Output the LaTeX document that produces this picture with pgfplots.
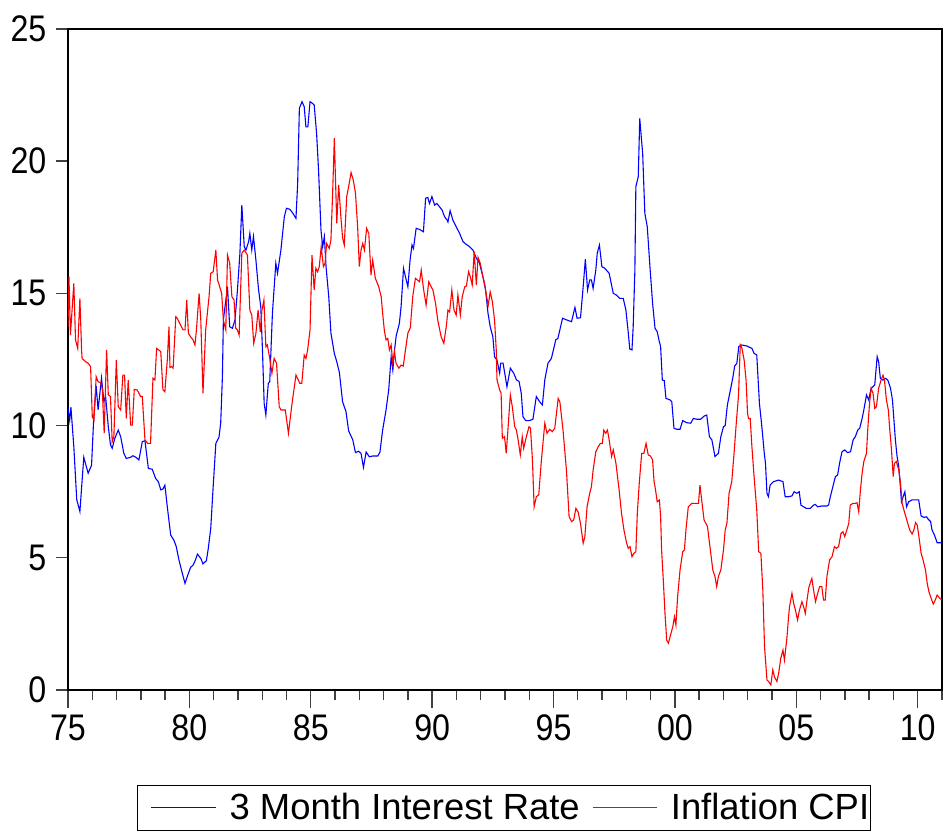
\documentclass[border=0pt]{standalone}
\usepackage{fontspec}
\setmainfont{Liberation Sans}
\newfontfamily\tickfont[FakeStretch=0.87]{Liberation Sans}
\usepackage{pgfplots}
\pgfplotsset{compat=1.18}
\definecolor{ebl}{RGB}{0,0,255}
\definecolor{erd}{RGB}{255,0,0}
\begin{document}
\begin{tikzpicture}
\begin{axis}[
  scale only axis, width=437pt, height=330.5pt,
  xmin=1975, xmax=2011, ymin=0, ymax=25,
  axis line style={line width=0.8pt, black},
  xtick={1975,1980,...,2010},
  xticklabels={75,80,85,90,95,00,05,10},
  minor xtick={1976,...,2011},
  ytick={0,5,...,25},
  xtick pos=bottom, ytick pos=left,
  tick align=outside,
  major tick length=8.8pt, minor tick length=5pt,
  ytick style={/pgfplots/major tick length=5.8pt},
  tick style={line width=0.7pt, black!75},
  /pgf/number format/assume math mode=true,
  ticklabel style={font=\tickfont\fontsize{18.5}{20}\selectfont},
  yticklabel style={xshift=1.5pt},
  legend columns=2,
  legend style={at={(0.0789,-0.1437)}, anchor=north west, draw=black, line width=0.5pt,
    font=\fontsize{18.2}{21}\selectfont, inner xsep=0.5pt, inner ysep=3.8pt,
    nodes={inner sep=0pt},
    /tikz/every odd column/.append style={column sep=6.5pt},
    /tikz/every even column/.append style={column sep=0pt}},
  legend image code/.code={\path (-6.2pt,0pt); \draw[#1, line width=0.65pt] (0pt,0.25pt) -- (32.3pt,0.25pt);},
]
\addplot[color=ebl, line width=0.55pt] coordinates {
(1975.00,10.65)(1975.07,10.2)(1975.12,10.7)(1975.24,9.2)(1975.36,7.2)(1975.49,6.75)(1975.65,8.8)(1975.83,8.2)(1975.97,8.5)
(1976.06,10.3)(1976.16,11.5)(1976.24,10.6)(1976.38,11.8)(1976.48,10.9)(1976.55,11.1)(1976.66,9.96)(1976.75,9.27)(1976.82,9.14)(1976.93,9.52)
(1977.07,9.83)(1977.17,9.58)(1977.30,8.95)(1977.40,8.76)(1977.58,8.8)(1977.67,8.86)(1977.80,8.8)(1977.92,8.7)
(1978.06,9.39)(1978.17,9.43)(1978.31,8.38)(1978.47,8.35)(1978.61,8.0)(1978.72,7.88)(1978.82,7.57)(1978.91,7.6)(1978.99,7.75)
(1979.09,6.93)(1979.23,5.86)(1979.37,5.65)(1979.46,5.42)(1979.57,4.92)(1979.71,4.41)(1979.82,4.03)(1979.92,4.31)
(1980.05,4.64)(1980.16,4.73)(1980.26,4.94)(1980.33,5.14)(1980.47,4.98)(1980.56,4.77)(1980.70,4.89)(1980.78,5.36)(1980.88,6.12)(1980.98,7.69)
(1981.09,9.33)(1981.22,9.56)(1981.29,10.1)(1981.36,11.85)(1981.40,14.0)(1981.57,15.25)(1981.66,13.74)(1981.77,13.68)(1981.88,14.0)(1981.98,15.13)
(1982.08,16.5)(1982.16,18.34)(1982.26,16.77)(1982.33,16.64)(1982.44,16.96)(1982.49,17.27)(1982.57,16.64)(1982.64,17.15)(1982.74,16.26)(1982.85,15.13)(1982.94,14.5)
(1983.01,12.86)(1983.08,10.84)(1983.15,10.4)(1983.25,11.6)(1983.31,11.66)(1983.42,14.25)(1983.56,16.14)(1983.63,15.76)(1983.77,16.64)(1983.91,17.9)
(1984.00,18.22)(1984.14,18.18)(1984.25,18.05)(1984.39,17.84)(1984.46,19.16)(1984.53,22.0)(1984.64,22.25)(1984.73,22.06)(1984.80,21.3)(1984.88,21.3)(1984.97,22.25)
(1985.05,22.2)(1985.14,22.13)(1985.24,21.05)(1985.32,19.67)(1985.42,17.4)(1985.49,16.77)(1985.56,17.15)(1985.63,16.0)(1985.74,14.88)(1985.83,13.5)(1985.97,12.73)
(1986.07,12.42)(1986.18,12.0)(1986.31,10.9)(1986.45,10.53)(1986.56,9.8)(1986.73,9.46)(1986.84,8.98)(1986.97,9.03)
(1987.07,8.95)(1987.17,8.42)(1987.28,9.0)(1987.41,8.82)(1987.55,8.85)(1987.76,8.85)(1987.85,9.0)(1987.96,9.83)
(1988.10,10.59)(1988.21,11.35)(1988.31,12.6)(1988.38,12.1)(1988.45,12.86)(1988.52,13.4)(1988.65,13.87)(1988.72,14.5)(1988.82,15.95)(1988.90,15.63)
(1989.00,15.25)(1989.09,16.26)(1989.17,16.83)(1989.23,16.7)(1989.34,17.46)(1989.48,17.42)(1989.64,17.33)(1989.73,18.6)(1989.82,18.63)(1989.89,18.4)(1989.99,18.66)
(1990.10,18.34)(1990.19,18.4)(1990.30,18.28)(1990.41,18.15)(1990.51,17.9)(1990.61,17.78)(1990.65,17.7)(1990.74,18.13)(1990.85,17.78)(1990.99,17.52)
(1991.13,17.27)(1991.27,16.96)(1991.38,16.87)(1991.54,16.77)(1991.68,16.64)(1991.82,16.33)(1991.95,16.14)
(1992.09,15.63)(1992.20,15.13)(1992.30,14.25)(1992.39,13.74)(1992.50,13.36)(1992.57,12.6)(1992.67,12.48)(1992.78,11.98)(1992.82,12.36)(1992.92,12.36)(1992.99,11.98)
(1993.08,11.47)(1993.22,12.17)(1993.36,11.98)(1993.47,11.73)(1993.58,11.67)(1993.67,11.22)(1993.74,10.34)(1993.85,10.19)
(1994.01,10.19)(1994.15,10.24)(1994.29,11.1)(1994.43,10.9)(1994.54,10.78)(1994.64,11.73)(1994.77,12.36)(1994.91,12.54)
(1995.01,12.92)(1995.09,13.24)(1995.18,13.3)(1995.26,13.62)(1995.37,14.06)(1995.53,14.0)(1995.74,13.93)(1995.88,14.47)(1995.97,14.06)
(1996.11,14.08)(1996.22,15.25)(1996.31,16.29)(1996.40,15.13)(1996.49,15.51)(1996.56,15.51)(1996.63,15.19)(1996.74,15.88)(1996.80,16.52)(1996.89,16.83)(1996.99,16.01)
(1997.11,15.95)(1997.29,15.76)(1997.46,15.0)(1997.59,14.94)(1997.73,14.81)(1997.87,14.81)(1997.98,14.37)
(1998.08,13.49)(1998.14,12.9)(1998.23,12.86)(1998.28,13.74)(1998.35,15.88)(1998.39,19.04)(1998.49,19.41)(1998.55,21.62)(1998.67,20.3)(1998.76,18.03)(1998.86,17.52)(1998.97,16.01)
(1999.08,14.62)(1999.18,13.68)(1999.27,13.55)(1999.35,13.2)(1999.41,12.99)(1999.48,11.72)(1999.56,11.7)(1999.63,11.03)(1999.80,10.97)(1999.87,10.9)(1999.96,9.9)
(2000.07,9.86)(2000.21,9.86)(2000.32,10.19)(2000.48,10.11)(2000.65,10.09)(2000.76,10.27)(2000.90,10.24)
(2001.06,10.24)(2001.20,10.36)(2001.31,10.4)(2001.42,9.58)(2001.52,9.46)(2001.65,8.83)(2001.79,8.95)(2001.89,9.58)
(2002.00,9.96)(2002.07,10.0)(2002.16,10.78)(2002.27,11.28)(2002.38,11.79)(2002.46,12.25)(2002.55,12.36)(2002.63,12.99)(2002.75,13.05)(2002.96,13.01)
(2003.17,12.92)(2003.26,12.73)(2003.37,12.67)(2003.48,10.84)(2003.58,9.96)(2003.68,8.95)(2003.73,8.57)(2003.79,7.44)(2003.85,7.31)(2003.92,7.75)
(2004.06,7.88)(2004.27,7.94)(2004.45,7.88)(2004.54,7.31)(2004.68,7.31)(2004.82,7.34)(2004.91,7.5)
(2005.02,7.44)(2005.12,7.5)(2005.19,6.99)(2005.30,6.93)(2005.41,6.87)(2005.57,6.87)(2005.71,6.99)(2005.78,7.02)(2005.88,6.93)
(2006.06,6.96)(2006.26,6.96)(2006.33,7.0)(2006.40,7.31)(2006.54,7.82)(2006.61,8.07)(2006.70,8.13)(2006.78,8.57)(2006.88,9.01)(2006.99,9.08)
(2007.11,8.98)(2007.23,9.01)(2007.34,9.46)(2007.43,9.58)(2007.53,9.83)(2007.61,9.9)(2007.71,10.27)(2007.78,10.59)(2007.89,11.16)(2007.98,10.97)
(2008.08,11.41)(2008.16,11.47)(2008.23,11.54)(2008.33,12.61)(2008.39,12.42)(2008.46,11.79)(2008.57,11.72)(2008.67,11.79)(2008.77,11.72)(2008.88,11.41)(2008.96,10.97)
(2009.01,10.34)(2009.08,9.46)(2009.15,8.83)(2009.22,8.45)(2009.29,7.63)(2009.33,7.12)(2009.40,7.31)(2009.47,7.5)(2009.54,6.93)(2009.63,7.12)(2009.77,7.19)(2009.95,7.19)
(2010.04,7.19)(2010.14,6.58)(2010.25,6.53)(2010.36,6.55)(2010.43,6.46)(2010.53,6.37)(2010.59,6.05)(2010.69,5.86)(2010.80,5.57)(2011.00,5.57)
};
\addlegendentry{3 Month Interest Rate}
\addplot[color=erd, line width=0.55pt] coordinates {
(1975.00,13.74)(1975.04,15.63)(1975.10,13.42)(1975.24,15.38)(1975.31,13.24)(1975.40,12.92)(1975.49,14.81)(1975.56,12.86)(1975.58,12.54)(1975.72,12.42)(1975.83,12.36)(1975.93,12.23)
(1976.00,10.34)(1976.07,10.21)(1976.16,11.85)(1976.24,11.66)(1976.34,11.62)(1976.41,11.41)(1976.49,9.71)(1976.59,12.86)(1976.66,11.16)(1976.75,11.1)(1976.82,9.39)(1976.89,9.58)(1976.99,12.48)
(1977.07,10.72)(1977.17,10.59)(1977.26,11.91)(1977.33,11.91)(1977.40,10.27)(1977.48,11.72)(1977.58,10.02)(1977.65,10.02)(1977.73,11.37)(1977.85,11.35)(1977.99,11.1)
(1978.06,11.1)(1978.17,9.46)(1978.28,9.33)(1978.40,9.33)(1978.50,11.79)(1978.58,11.72)(1978.65,12.92)(1978.82,12.8)(1978.91,11.35)(1978.99,11.28)
(1979.09,12.48)(1979.16,13.74)(1979.20,12.2)(1979.26,12.23)(1979.33,12.17)(1979.44,14.12)(1979.50,14.06)(1979.64,13.8)(1979.74,13.62)(1979.82,13.62)(1979.89,14.75)(1979.96,13.49)
(1980.05,13.36)(1980.15,13.24)(1980.23,13.05)(1980.29,13.62)(1980.40,15.0)(1980.47,13.99)(1980.56,11.22)(1980.67,13.6)(1980.74,14.25)(1980.81,14.88)(1980.88,15.76)(1980.98,15.82)
(1981.09,16.64)(1981.16,15.51)(1981.25,15.25)(1981.33,15.0)(1981.40,13.99)(1981.50,13.62)(1981.57,16.45)(1981.66,16.14)(1981.75,14.88)(1981.84,14.75)(1981.91,13.68)(1981.98,13.62)
(1982.05,13.42)(1982.16,16.52)(1982.26,16.64)(1982.39,16.45)(1982.49,14.37)(1982.57,14.18)(1982.65,13.11)(1982.74,13.49)(1982.83,14.37)(1982.92,13.55)(1982.99,14.37)
(1983.07,14.75)(1983.15,12.98)(1983.21,13.05)(1983.26,12.8)(1983.31,12.54)(1983.40,11.98)(1983.49,12.54)(1983.59,12.36)(1983.70,10.72)(1983.77,10.59)(1983.95,10.59)
(1984.08,9.71)(1984.22,10.78)(1984.39,11.91)(1984.55,11.6)(1984.63,11.6)(1984.73,12.67)(1984.80,12.54)(1984.87,12.86)(1984.97,13.62)
(1985.05,16.45)(1985.14,15.13)(1985.21,15.95)(1985.28,15.82)(1985.35,16.01)(1985.43,16.77)(1985.52,16.01)(1985.59,16.14)(1985.65,16.89)(1985.76,16.7)(1985.83,17.02)(1985.90,18.78)(1985.97,20.87)
(1986.07,17.65)(1986.15,19.1)(1986.24,17.9)(1986.31,17.1)(1986.38,16.83)(1986.48,18.66)(1986.56,19.04)(1986.66,19.57)(1986.75,19.29)(1986.84,18.8)(1986.93,17.52)
(1987.00,16.01)(1987.07,16.64)(1987.14,16.89)(1987.21,16.64)(1987.30,17.46)(1987.39,17.27)(1987.48,15.69)(1987.55,16.26)(1987.66,15.57)(1987.80,15.25)(1987.90,14.88)(1987.96,14.25)
(1988.03,13.6)(1988.10,13.24)(1988.17,13.3)(1988.24,12.86)(1988.31,13.05)(1988.38,12.36)(1988.45,12.8)(1988.51,12.36)(1988.63,12.17)(1988.72,12.29)(1988.81,12.25)(1988.90,12.86)
(1989.00,13.5)(1989.10,13.7)(1989.20,14.88)(1989.31,15.57)(1989.40,15.5)(1989.48,15.44)(1989.55,15.88)(1989.64,15.19)(1989.75,14.56)(1989.86,15.44)(1989.96,15.25)
(1990.03,15.13)(1990.14,14.62)(1990.23,13.99)(1990.37,13.36)(1990.48,13.11)(1990.58,13.74)(1990.65,14.37)(1990.72,14.3)(1990.81,15.13)(1990.90,14.37)(1990.99,14.18)
(1991.06,14.94)(1991.16,14.18)(1991.24,14.88)(1991.34,15.25)(1991.41,15.28)(1991.50,15.82)(1991.57,15.63)(1991.65,15.32)(1991.73,16.58)(1991.82,15.32)(1991.89,16.36)(1991.98,16.14)
(1992.09,15.63)(1992.16,15.38)(1992.23,14.94)(1992.31,14.56)(1992.39,15.06)(1992.48,14.69)(1992.57,13.99)(1992.64,12.86)(1992.67,11.73)(1992.78,11.35)(1992.84,11.22)(1992.89,9.52)(1992.98,9.58)
(1993.05,8.95)(1993.12,9.83)(1993.22,11.16)(1993.30,10.72)(1993.40,9.96)(1993.47,9.83)(1993.54,9.46)(1993.63,8.89)(1993.71,9.58)(1993.77,9.14)(1993.88,9.58)(1993.99,9.96)
(1994.05,9.9)(1994.13,8.7)(1994.20,6.93)(1994.29,7.31)(1994.39,7.38)(1994.50,8.7)(1994.64,10.09)(1994.73,9.71)(1994.84,9.86)(1994.95,9.77)
(1995.05,9.9)(1995.12,10.46)(1995.19,11.03)(1995.26,10.9)(1995.39,9.83)(1995.53,8.32)(1995.64,6.56)(1995.74,6.37)(1995.83,6.43)(1995.92,6.87)
(1996.01,6.74)(1996.11,6.3)(1996.22,5.55)(1996.29,5.8)(1996.38,6.93)(1996.49,7.44)(1996.56,7.69)(1996.63,8.32)(1996.74,9.01)(1996.84,9.2)(1996.93,9.33)
(1997.01,9.33)(1997.07,9.83)(1997.15,9.71)(1997.22,9.83)(1997.29,9.46)(1997.39,8.83)(1997.46,9.08)(1997.57,8.57)(1997.70,7.57)(1997.80,6.68)(1997.90,6.05)
(1998.01,5.55)(1998.08,5.36)(1998.15,5.42)(1998.23,5.04)(1998.31,5.17)(1998.39,5.23)(1998.45,6.68)(1998.53,7.82)(1998.63,8.95)(1998.72,8.95)(1998.81,9.33)(1998.90,8.89)(1998.99,8.85)
(1999.08,8.7)(1999.14,7.88)(1999.18,7.69)(1999.27,7.12)(1999.36,7.19)(1999.41,6.56)(1999.45,5.3)(1999.52,4.16)(1999.59,2.9)(1999.66,1.89)(1999.73,1.77)(1999.82,2.08)(1999.91,2.39)(1999.98,2.77)
(2000.04,2.46)(2000.11,3.53)(2000.21,4.54)(2000.32,5.23)(2000.39,5.3)(2000.46,6.12)(2000.55,6.93)(2000.69,7.06)(2000.83,7.06)(2000.97,7.06)
(2001.03,7.75)(2001.10,7.19)(2001.20,6.43)(2001.34,6.18)(2001.45,5.36)(2001.56,4.54)(2001.65,4.29)(2001.72,3.91)(2001.79,4.29)(2001.89,4.54)
(2002.00,5.3)(2002.07,6.05)(2002.14,6.3)(2002.23,7.44)(2002.34,7.88)(2002.44,9.01)(2002.52,10.02)(2002.62,11.16)(2002.69,13.05)(2002.76,12.92)(2002.85,12.48)(2002.93,11.72)(2002.99,10.46)
(2003.03,10.27)(2003.10,10.27)(2003.17,9.2)(2003.26,8.07)(2003.37,6.81)(2003.45,5.23)(2003.54,5.17)(2003.62,3.78)(2003.69,1.64)(2003.79,0.38)(2003.86,0.32)(2003.95,0.19)
(2004.03,0.76)(2004.10,0.5)(2004.20,0.32)(2004.27,0.63)(2004.36,1.2)(2004.45,1.51)(2004.51,1.13)(2004.61,1.95)(2004.68,2.77)(2004.72,3.15)(2004.82,3.66)(2004.89,3.28)(2004.96,3.03)
(2005.05,2.65)(2005.13,3.03)(2005.23,3.34)(2005.30,3.15)(2005.37,2.9)(2005.44,3.4)(2005.51,3.85)(2005.57,4.04)(2005.64,4.22)(2005.71,3.78)(2005.79,3.34)(2005.88,3.66)(2005.96,3.91)
(2006.05,3.91)(2006.12,3.4)(2006.19,3.4)(2006.26,4.29)(2006.37,4.92)(2006.47,5.04)(2006.57,5.42)(2006.65,5.36)(2006.74,5.42)(2006.84,5.92)(2006.92,5.99)(2006.99,5.8)
(2007.06,5.99)(2007.16,6.3)(2007.22,6.99)(2007.33,7.06)(2007.43,7.06)(2007.50,7.08)(2007.57,6.74)(2007.64,7.56)(2007.71,8.2)(2007.78,8.64)(2007.89,8.95)(2007.94,9.83)
(2008.01,10.78)(2008.08,11.41)(2008.16,11.22)(2008.23,10.65)(2008.30,10.72)(2008.39,11.41)(2008.49,11.72)(2008.57,11.91)(2008.63,11.72)(2008.71,10.97)(2008.79,10.59)(2008.85,9.83)(2008.92,9.08)(2008.99,8.07)
(2009.04,8.57)(2009.12,8.64)(2009.22,8.32)(2009.29,7.82)(2009.36,7.06)(2009.43,6.81)(2009.49,6.62)(2009.59,6.3)(2009.67,6.05)(2009.77,5.9)(2009.84,6.05)(2009.91,6.33)(2009.98,6.24)
(2010.05,5.8)(2010.14,5.17)(2010.22,4.92)(2010.32,4.54)(2010.39,4.04)(2010.46,3.72)(2010.53,3.53)(2010.64,3.25)(2010.72,3.4)(2010.80,3.59)(2010.91,3.47)(2011.00,3.4)
};
\addlegendentry{Inflation CPI}
\end{axis}
\pgfresetboundingbox
\useasboundingbox (-34pt,-72pt) rectangle (437.5pt,345pt);
\end{tikzpicture}
\end{document}
